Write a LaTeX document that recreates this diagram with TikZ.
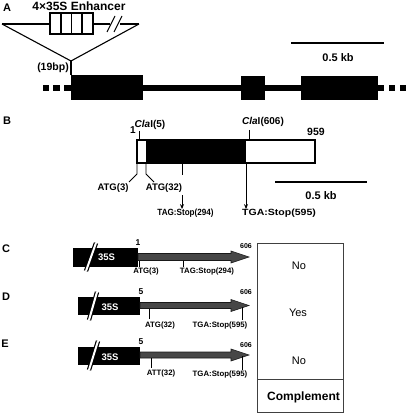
\documentclass[tikz,border=0pt]{standalone}
\usepackage{fontspec}
\setmainfont{Liberation Sans}
\usetikzlibrary{arrows.meta}
\newcommand{\fsz}[1]{\fontsize{#1}{#1}\selectfont}
\begin{document}
\begin{tikzpicture}[x=1pt,y=-1pt,
  txt/.style={inner sep=0pt,font=\bfseries\fsz{#1}},
  txt/.default=9.5,
  thinline/.style={line width=1.1pt},
  bar/.style={line width=1.8pt},
  exon/.style={fill=black},
  conn/.style={line width=0.9pt},
  arr/.style={line width=0.9pt,-{Stealth[length=5pt,width=4pt]}},
  garrow/.style={fill=black!72,draw=black!90,line width=0.6pt},
  tick/.style={line width=0.7pt},
  slashblack/.style={line width=4.4pt,black},
  slashwhite/.style={line width=2pt,white},
  box35/.style={fill=black,inner sep=0pt},
  tbl/.style={draw=black!75,line width=0.8pt}]
\useasboundingbox (0,0) rectangle (408,414);

% ---------- Panel A ----------
\node[txt=11] (lA) at (7,8) {A};
\node[txt=12] (enh) at (79,6) {4×35S Enhancer};
\coordinate (tl) at (2,24);
\coordinate (tr) at (139,24);
\coordinate (apex) at (71,61);
\draw[thinline] (tl) -- (apex) -- (tr);
\draw[thinline] (tl) -- (50,24);
\draw[thinline] (93,24) -- (110,24);
\draw[thinline] (120,24) -- (tr);
\draw[thinline] (107,32) -- (115,16);
\draw[thinline] (114,32) -- (122,16);
\draw[thinline,fill=white] (50,13) rectangle (93,34);
\draw[thinline] (61,13) -- (61,34) (71.5,13) -- (71.5,34) (82,13) -- (82,34);
\node[txt=10.5] (bp) at (53,68) {(19bp)};
\draw[thinline] (apex) -- (71,75);
% gene
\draw[line width=6pt] (71,88) -- (384,88);
\fill[exon] (71,75) rectangle (143,100);
\fill[exon] (241,76) rectangle (265,100);
\fill[exon] (301,76) rectangle (378,100);
\fill (43,85) rectangle (49,91);
\fill (53,85) rectangle (60,91);
\fill (64,85) rectangle (71,91);
\fill (389,85) rectangle (395,91);
\fill (400,85) rectangle (406,91);
% scale bar
\coordinate (sa1) at (291,43);
\coordinate (sa2) at (384,43);
\draw[bar] (sa1) -- (sa2);
\node[txt=11] (kbA) at (338,58) {0.5 kb};

% ---------- Panel B ----------
\node[txt=11] (lB) at (7,121) {B};
\fill (146,140) rectangle (246,163);
\draw[line width=1.6pt] (137,140) rectangle (315,163);
\node[txt=10] (one) at (133,130) {1};
\node[txt=10] (cla5) at (150,125) {\textit{Cla}I(5)};
\draw[conn] (139,131) -- (139,140);
\node[txt=10] (cla606) at (263,122) {\textit{Cla}I(606)};
\draw[conn] (249,130) -- (249,140);
\node[txt=10.5] (n959) at (316,132) {959};
\node[txt=9.5] (atg3) at (113,188) {ATG(3)};
\node[txt=9.5] (atg32) at (164,188) {ATG(32)};
\draw[conn] (137,163) -- (137,174) -- (129,182);
\draw[conn] (146,163) -- (146,174) -- (154,182);
\draw[conn] (182,163) -- (182,175);
\node[txt=9] (tag294) at (185.5,213.5) {\scalebox{0.9}[1]{TAG:Stop(294)}};
\draw[arr] (182,195) -- (tag294.north -| 182,0);
\node[txt=9] (tga595) at (279,213.5) {\scalebox{1.17}[1]{TGA:Stop(595)}};
\draw[arr] (246,163) -- (tga595.north -| 246,0);
\draw[bar] (275,182) -- (367,182);
\node[txt=11] (kbB) at (321,196) {0.5 kb};

% ---------- Panel C ----------
\node[txt=11] (lC) at (6,249) {C};
\node[box35,minimum width=65pt,minimum height=19pt] (bC) at (105.5,257.5) {};
\draw[slashblack] (86,271) -- (96,243);
\draw[slashwhite] (86,271) -- (96,243);
\node[txt=9.5,text=white] (sC) at (106.5,257) {35S};
\filldraw[garrow] (138,253.5) -- (231,253.5) -- (231,251) -- (249,257) -- (231,263) -- (231,260.5) -- (138,260.5) -- cycle;
\node[txt=8.5] (c1) at (138,243) {1};
\node[txt=7] (c606) at (246,246) {606};
\draw[tick] (139,260.5) -- (139,267);
\draw[tick] (183,260.5) -- (183,267);
\node[txt=7.8] (catg) at (146,271) {ATG(3)};
\node[txt=7.8] (ctag) at (207,271) {TAG:Stop(294)};

% ---------- Panel D ----------
\node[txt=11] (lD) at (6,297) {D};
\node[box35,minimum width=62pt,minimum height=18pt] (bD) at (109,306) {};
\draw[slashblack] (89,320) -- (97,292);
\draw[slashwhite] (89,320) -- (97,292);
\node[txt=9.5,text=white] (sD) at (110,307) {35S};
\filldraw[garrow] (140,302.5) -- (231,302.5) -- (231,299.5) -- (249,305.5) -- (231,311.5) -- (231,308.5) -- (140,308.5) -- cycle;
\node[txt=8.5] (d5) at (141,292) {5};
\node[txt=7] (d606) at (246,292) {606};
\draw[tick] (149,308.5) -- (149,319);
\draw[tick] (242,307) -- (242,320);
\node[txt=7.8] (datg) at (160,325) {ATG(32)};
\node[txt=7.8] (dtga) at (220,325) {TGA:Stop(595)};

% ---------- Panel E ----------
\node[txt=11] (lE) at (5,344) {E};
\node[box35,minimum width=62pt,minimum height=18pt] (bE) at (109,356) {};
\draw[slashblack] (89,370) -- (98,341);
\draw[slashwhite] (89,370) -- (98,341);
\node[txt=9.5,text=white] (sE) at (110,357) {35S};
\filldraw[garrow] (140,352) -- (231,352) -- (231,349) -- (249,355) -- (231,361) -- (231,358) -- (140,358) -- cycle;
\node[txt=8.5] (e5) at (141,342) {5};
\node[txt=7] (e606) at (246,345) {606};
\draw[tick] (151,358) -- (151,368);
\draw[tick] (242,356) -- (242,370);
\node[txt=7.8] (eatt) at (161,373) {ATT(32)};
\node[txt=7.8] (etga) at (220,374) {TGA:Stop(595)};

% ---------- Table ----------
\draw[tbl] (257,243) rectangle (343,412);
\draw[tbl] (257,379) -- (343,379);
\node[inner sep=0pt,font=\fsz{11}] (no1) at (299,265.5) {No};
\node[inner sep=0pt,font=\fsz{11}] (yes) at (298,313) {Yes};
\node[inner sep=0pt,font=\fsz{11}] (no2) at (299,361) {No};
\node[txt=12] (comp) at (303.5,397) {Complement};
\end{tikzpicture}
\end{document}
